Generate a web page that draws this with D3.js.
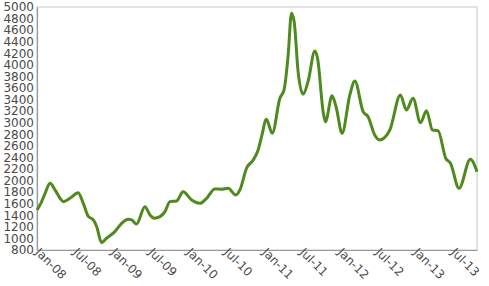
<!DOCTYPE html>
<html>
<head>
<meta charset="utf-8">
<script src="https://cdn.jsdelivr.net/npm/d3@7/dist/d3.min.js"></script>
<style>
  html, body { margin: 0; padding: 0; background: #fff; }
  svg { display: block; }
  text { font-family: "DejaVu Sans", sans-serif; }
</style>
</head>
<body>
<svg id="chart" width="489" height="286"></svg>
<script>
// Data
const dates = [
  "2008-01-01","2008-01-20","2008-02-09","2008-03-04","2008-03-28","2008-04-21","2008-05-07",
  "2008-06-08","2008-07-18","2008-08-11","2008-09-05","2008-09-29","2008-10-15","2008-11-08",
  "2008-12-02","2009-01-11","2009-02-13","2009-03-17","2009-04-02","2009-04-26","2009-06-05",
  "2009-06-30","2009-07-20","2009-08-17","2009-09-10","2009-10-04","2009-11-05","2009-12-07",
  "2010-01-17","2010-02-26","2010-03-30","2010-05-09","2010-06-10","2010-07-12","2010-08-18",
  "2010-09-07","2010-10-09","2010-11-10","2010-12-04","2010-12-20","2011-01-13","2011-02-10",
  "2011-03-19","2011-04-08","2011-04-28","2011-05-14","2011-05-27","2011-06-15","2011-07-09",
  "2011-08-02","2011-09-04","2011-09-17","2011-10-14","2011-10-25","2011-11-26","2011-12-17",
  "2012-01-13","2012-02-20","2012-03-15","2012-04-24","2012-05-18","2012-06-19","2012-07-13",
  "2012-08-31","2012-10-21","2012-11-19","2012-12-21","2013-01-26","2013-02-24","2013-03-25",
  "2013-04-21","2013-05-28","2013-06-20","2013-07-31","2013-09-24","2013-10-26"
];
const values = [
  1490,1610,1780,1955,1840,1695,1636,
  1695,1790,1610,1380,1320,1205,927,
  1003,1117,1262,1331,1320,1250,1549,
  1406,1349,1377,1463,1636,1648,1808,
  1665,1608,1694,1855,1850,1867,1751,
  1838,2213,2356,2529,2750,3060,2817,
  3422,3566,4170,4890,4746,3882,3491,
  3709,4240,4113,3191,3018,3467,3250,
  2817,3480,3721,3191,3104,2788,2702,
  2874,3479,3220,3422,3001,3208,2874,
  2862,2386,2299,1867,2368,2154
];
const yTicks = [800,1000,1200,1400,1600,1800,2000,2200,2400,2600,2800,3000,3200,3400,3600,3800,4000,4200,4400,4600,4800,5000];
const xTickDates = ["2008-01-01","2008-07-01","2009-01-01","2009-07-01","2010-01-01","2010-07-01","2011-01-01","2011-07-01","2012-01-01","2012-07-01","2013-01-01","2013-07-01"];

const parse = d3.timeParse("%Y-%m-%d");
const data = dates.map((d, i) => ({ date: parse(d), value: values[i] }));

const margin = { left: 37, top: 7, right: 12, bottom: 36 };
const W = 489, H = 286;
const svg = d3.select("#chart");

const x = d3.scaleTime()
  .domain(d3.extent(data, d => d.date))
  .range([margin.left, W - margin.right]);
const y = d3.scaleLinear()
  .domain([800, 5000])
  .range([H - margin.bottom, margin.top]);

// frame (top / right light)
svg.append("rect")
  .attr("x", margin.left).attr("y", margin.top)
  .attr("width", W - margin.right - margin.left)
  .attr("height", H - margin.bottom - margin.top)
  .attr("fill", "none").attr("stroke", "#cfcfcf").attr("stroke-width", 1.2);

// y axis
const yAxis = svg.append("g")
  .attr("transform", `translate(${margin.left},0)`)
  .call(d3.axisLeft(y).tickValues(yTicks).tickSize(0).tickPadding(3).tickFormat(d3.format("d")));
yAxis.select(".domain").attr("stroke", "#999").attr("stroke-width", 1.2);
yAxis.selectAll("text").attr("fill", "#4a4a4a").style("font-size", "12px").style("font-family", "DejaVu Sans");

// x axis
const xAxis = svg.append("g")
  .attr("transform", `translate(0,${H - margin.bottom})`)
  .call(d3.axisBottom(x).tickValues(xTickDates.map(parse)).tickSize(0).tickPadding(0).tickFormat(d3.timeFormat("%b-%y")));
xAxis.select(".domain").attr("stroke", "#999").attr("stroke-width", 1.2);
xAxis.selectAll("text")
  .attr("fill", "#4a4a4a").style("font-size", "12px").style("font-family", "DejaVu Sans")
  .attr("text-anchor", "start")
  .attr("dy", "0")
  .attr("transform", "translate(-3,3) rotate(45)");

// line
const line = d3.line()
  .x(d => x(d.date))
  .y(d => y(d.value))
  .curve(d3.curveMonotoneX);
svg.append("path")
  .datum(data)
  .attr("d", line)
  .attr("fill", "none")
  .attr("stroke", "#4e8a1e")
  .attr("stroke-width", 3)
  .attr("stroke-linejoin", "round");
</script>
</body>
</html>
